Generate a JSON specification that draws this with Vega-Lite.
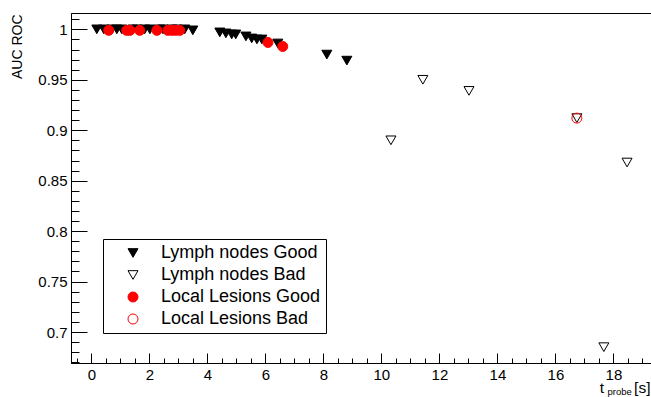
{
  "$schema": "https://vega.github.io/schema/vega-lite/v6.json",
  "width": 581,
  "height": 350,
  "autosize": "none",
  "padding": {"left": 71, "top": 13, "right": 0, "bottom": 34},
  "background": "white",
  "config": {
    "view": {"stroke": "black", "strokeWidth": 1},
    "font": "Liberation Sans",
    "axis": {"grid": false, "domainColor": "black", "tickColor": "black", "labelColor": "black", "titleColor": "black", "labelFont": "Liberation Sans", "titleFont": "Liberation Sans", "titleFontWeight": "normal"},
    "legend": {"orient": "none", "legendX": 32, "legendY": 226, "strokeColor": "black", "fillColor": "white", "padding": 5, "rowPadding": 4, "symbolSize": 100, "symbolStrokeWidth": 1, "symbolOpacity": 1, "labelFontSize": 18, "labelFont": "Liberation Sans", "labelColor": "black", "symbolOffset": 16, "labelOffset": 19, "title": null, "cornerRadius": 0}
  },
  "data": {"values": [
    {"t": 0.19, "auc": 1.0, "series": "Lymph nodes Good"},
    {"t": 0.43, "auc": 1.0, "series": "Lymph nodes Good"},
    {"t": 0.71, "auc": 1.0, "series": "Lymph nodes Good"},
    {"t": 0.88, "auc": 1.0, "series": "Lymph nodes Good"},
    {"t": 1.05, "auc": 1.0, "series": "Lymph nodes Good"},
    {"t": 1.43, "auc": 1.0, "series": "Lymph nodes Good"},
    {"t": 1.57, "auc": 1.0, "series": "Lymph nodes Good"},
    {"t": 1.84, "auc": 1.0, "series": "Lymph nodes Good"},
    {"t": 2.02, "auc": 1.0, "series": "Lymph nodes Good"},
    {"t": 2.36, "auc": 1.0, "series": "Lymph nodes Good"},
    {"t": 2.47, "auc": 1.0, "series": "Lymph nodes Good"},
    {"t": 2.78, "auc": 1.0, "series": "Lymph nodes Good"},
    {"t": 2.95, "auc": 1.0, "series": "Lymph nodes Good"},
    {"t": 3.22, "auc": 1.0, "series": "Lymph nodes Good"},
    {"t": 3.5, "auc": 0.999, "series": "Lymph nodes Good"},
    {"t": 4.43, "auc": 0.997, "series": "Lymph nodes Good"},
    {"t": 4.64, "auc": 0.996, "series": "Lymph nodes Good"},
    {"t": 4.84, "auc": 0.995, "series": "Lymph nodes Good"},
    {"t": 4.98, "auc": 0.995, "series": "Lymph nodes Good"},
    {"t": 5.33, "auc": 0.993, "series": "Lymph nodes Good"},
    {"t": 5.53, "auc": 0.991, "series": "Lymph nodes Good"},
    {"t": 5.71, "auc": 0.99, "series": "Lymph nodes Good"},
    {"t": 5.88, "auc": 0.99, "series": "Lymph nodes Good"},
    {"t": 6.43, "auc": 0.986, "series": "Lymph nodes Good"},
    {"t": 8.12, "auc": 0.975, "series": "Lymph nodes Good"},
    {"t": 8.81, "auc": 0.969, "series": "Lymph nodes Good"},
    {"t": 10.33, "auc": 0.89, "series": "Lymph nodes Bad"},
    {"t": 11.43, "auc": 0.95, "series": "Lymph nodes Bad"},
    {"t": 13.02, "auc": 0.939, "series": "Lymph nodes Bad"},
    {"t": 16.74, "auc": 0.912, "series": "Lymph nodes Bad"},
    {"t": 17.67, "auc": 0.685, "series": "Lymph nodes Bad"},
    {"t": 18.47, "auc": 0.868, "series": "Lymph nodes Bad"},
    {"t": 0.6, "auc": 0.999, "series": "Local Lesions Good"},
    {"t": 1.22, "auc": 0.999, "series": "Local Lesions Good"},
    {"t": 1.33, "auc": 0.999, "series": "Local Lesions Good"},
    {"t": 1.67, "auc": 0.999, "series": "Local Lesions Good"},
    {"t": 2.26, "auc": 0.999, "series": "Local Lesions Good"},
    {"t": 2.64, "auc": 0.999, "series": "Local Lesions Good"},
    {"t": 2.78, "auc": 0.999, "series": "Local Lesions Good"},
    {"t": 2.91, "auc": 0.999, "series": "Local Lesions Good"},
    {"t": 3.05, "auc": 0.999, "series": "Local Lesions Good"},
    {"t": 6.09, "auc": 0.987, "series": "Local Lesions Good"},
    {"t": 6.6, "auc": 0.983, "series": "Local Lesions Good"},
    {"t": 16.74, "auc": 0.912, "series": "Local Lesions Bad"}
  ]},
  "resolve": {"axis": {"x": "independent", "y": "independent"}},
  "layer": [
    {
      "mark": {"type": "point", "opacity": 1, "strokeWidth": 1, "filled": false},
      "encoding": {
        "x": {"field": "t", "type": "quantitative", "scale": {"domain": [-0.7, 19.33], "nice": false, "zero": false},
          "axis": {"orient": "bottom", "values": [0, 2, 4, 6, 8, 10, 12, 14, 16, 18], "format": "~g", "tickSize": -10, "labelPadding": 14, "labelFontSize": 15, "labelFlush": false,
            "title": "t\u00a0\u00a0\u00a0\u00a0\u00a0\u00a0\u00a0[s]", "titleFontSize": 15.5, "titleAlign": "right", "titleAnchor": null, "titleX": 579, "titleY": 29, "titleBaseline": "alphabetic"}},
        "y": {"field": "auc", "type": "quantitative", "scale": {"domain": [0.6693, 1.0162], "nice": false, "zero": false},
          "axis": {"orient": "left", "values": [0.7, 0.75, 0.8, 0.85, 0.9, 0.95, 1], "format": "~g", "tickSize": -16, "labelPadding": 20, "labelFontSize": 15, "labelFlush": false,
            "title": "AUC ROC", "titleFontSize": 14, "titleAlign": "right", "titleAnchor": null, "titleX": -54, "titleY": 1, "titleAngle": -90, "titleBaseline": "middle"}},
        "shape": {"field": "series", "type": "nominal", "scale": {"domain": ["Lymph nodes Good", "Lymph nodes Bad", "Local Lesions Good", "Local Lesions Bad"], "range": ["triangle-down", "triangle-down", "circle", "circle"]}},
        "fill": {"field": "series", "type": "nominal", "scale": {"domain": ["Lymph nodes Good", "Lymph nodes Bad", "Local Lesions Good", "Local Lesions Bad"], "range": ["black", "transparent", "red", "transparent"]}},
        "stroke": {"field": "series", "type": "nominal", "scale": {"domain": ["Lymph nodes Good", "Lymph nodes Bad", "Local Lesions Good", "Local Lesions Bad"], "range": ["black", "black", "red", "red"]}},
        "size": {"value": 100}
      }
    },
    {
      "mark": {"type": "point", "opacity": 0},
      "encoding": {
        "x": {"field": "t", "type": "quantitative", "scale": {"domain": [-0.7, 19.33], "nice": false, "zero": false},
          "axis": {"orient": "bottom", "values": [-0.5, 0.5, 1, 1.5, 2.5, 3, 3.5, 4.5, 5, 5.5, 6.5, 7, 7.5, 8.5, 9, 9.5, 10.5, 11, 11.5, 12.5, 13, 13.5, 14.5, 15, 15.5, 16.5, 17, 17.5, 18.5, 19], "labels": false, "domain": false, "tickSize": -5,
            "title": "probe", "titleFontSize": 9.5, "titleAlign": "left", "titleAnchor": null, "titleX": 536, "titleY": 31.5, "titleBaseline": "alphabetic"}},
        "y": {"field": "auc", "type": "quantitative", "scale": {"domain": [0.6693, 1.0162], "nice": false, "zero": false},
          "axis": {"orient": "left", "values": [0.67, 0.68, 0.69, 0.71, 0.72, 0.73, 0.74, 0.76, 0.77, 0.78, 0.79, 0.81, 0.82, 0.83, 0.84, 0.86, 0.87, 0.88, 0.89, 0.91, 0.92, 0.93, 0.94, 0.96, 0.97, 0.98, 0.99, 1.01], "labels": false, "domain": false, "tickSize": -8, "title": null}}
      }
    }
  ]
}
